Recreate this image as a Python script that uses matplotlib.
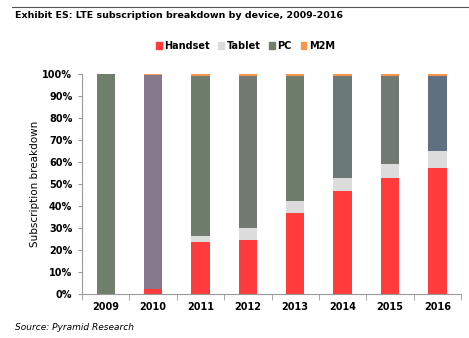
import numpy as np
import matplotlib.pyplot as plt
from matplotlib.patches import Patch
from matplotlib.lines import Line2D

years = ['2009', '2010', '2011', '2012', '2013', '2014', '2015', '2016']
handset = [0.0, 2.4, 23.6, 24.7, 36.8, 47.0, 52.7, 57.3]
tablet = [0.0, 0.0, 3.0, 5.3, 5.7, 5.7, 6.5, 7.5]
pc = [100.0, 97.1, 72.3, 68.9, 56.4, 46.2, 39.7, 34.1]
m2m = [0.0, 0.5, 1.1, 1.1, 1.1, 1.1, 1.1, 1.1]

c_handset = '#ff3b3b'
c_tablet = '#dcdcdc'
c_pc = ['#6f7f6c', '#85788a', '#6f7d6d', '#727a72', '#6f7d6d', '#6b7977', '#717a72', '#5f7180']
c_m2m = '#f7964a'

fig = plt.figure(figsize=(4.69, 3.38), dpi=100)
ax = fig.add_axes([0.175, 0.13, 0.808, 0.651])

x = np.arange(len(years))
w = 0.39
h = np.array(handset) / 100
t = np.array(tablet) / 100
p = np.array(pc) / 100
m = np.array(m2m) / 100
ax.bar(x, h, w, color=c_handset)
ax.bar(x, t, w, bottom=h, color=c_tablet)
ax.bar(x, p, w, bottom=h + t, color=c_pc)
ax.bar(x, m, w, bottom=h + t + p, color=c_m2m)

ax.set_xlim(-0.5, len(years) - 0.5)
ax.set_ylim(0, 1)
ax.set_yticks(np.arange(0, 1.01, 0.1))
ax.set_yticklabels([f'{int(round(v * 100))}%' for v in np.arange(0, 1.01, 0.1)])
ax.set_xticks(x)
ax.set_xticklabels(years)
ax.set_xticks(np.arange(-0.5, len(years)), minor=True)
ax.tick_params(axis='x', which='major', length=0, pad=6)
ax.tick_params(axis='x', which='minor', length=4, direction='out', color='#999999')
ax.tick_params(axis='y', length=3, color='#999999', pad=4)
for lab in ax.get_xticklabels() + ax.get_yticklabels():
    lab.set_fontsize(7)
    lab.set_fontweight('bold')
for s in ['top', 'right']:
    ax.spines[s].set_visible(False)
for s in ['left', 'bottom']:
    ax.spines[s].set_color('#999999')
    ax.spines[s].set_linewidth(0.8)
ax.set_ylabel('Subscription breakdown', fontsize=7.5, labelpad=2)

# header line and title
fig.add_artist(Line2D([0.026, 1.0], [0.98, 0.98], color='#555555', lw=0.8))
fig.text(0.032, 0.953, 'Exhibit ES: LTE subscription breakdown by device, 2009-2016',
         fontsize=6.8, fontweight='bold', va='center', ha='left')

handles = [Patch(color=c_handset), Patch(color=c_tablet), Patch(color=c_pc[0]), Patch(color=c_m2m)]
fig.legend(handles, ['Handset', 'Tablet', 'PC', 'M2M'], loc='center', bbox_to_anchor=(0.523, 0.864),
           ncol=4, frameon=False, handlelength=0.6, handleheight=0.6, handletextpad=0.25,
           columnspacing=0.9, prop={'size': 7, 'weight': 'bold'})

fig.text(0.032, 0.017, 'Source: Pyramid Research', fontsize=6.5, style='italic', va='bottom', ha='left')

fig.savefig('out.png', dpi=100)
